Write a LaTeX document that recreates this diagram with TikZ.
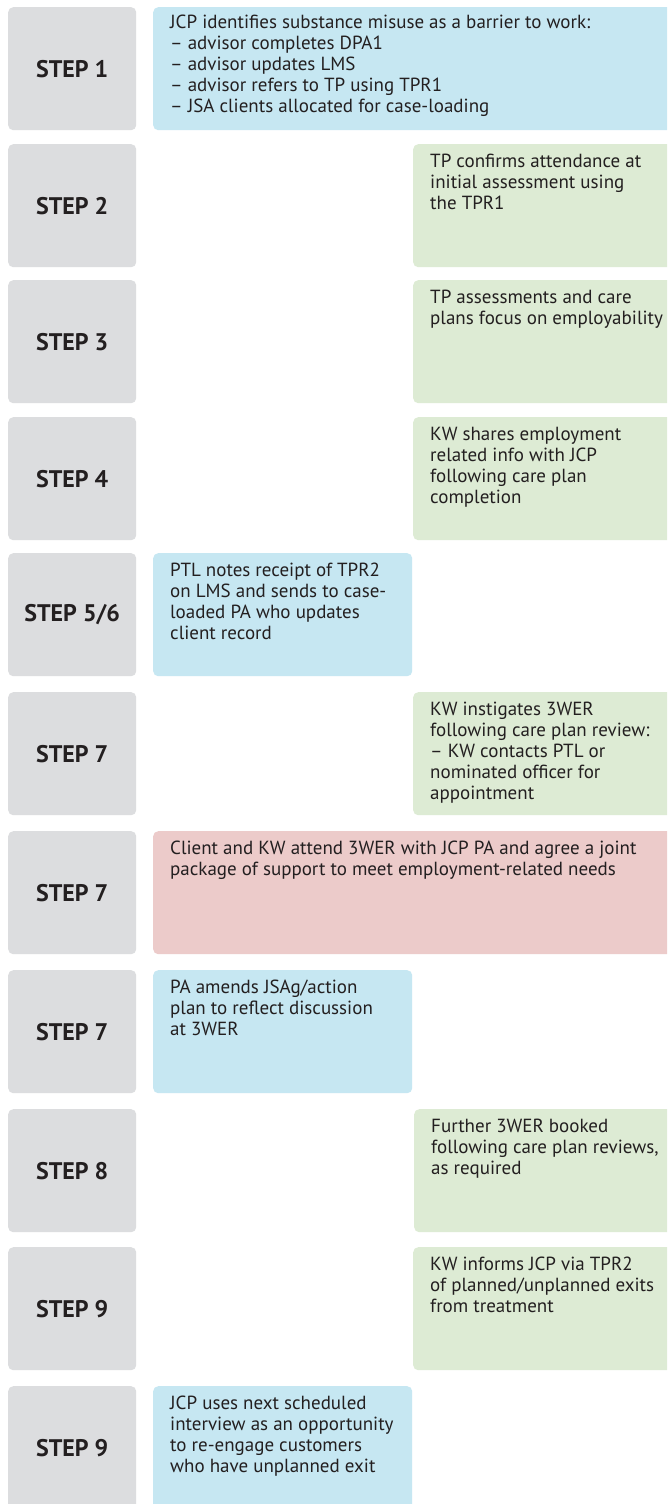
\documentclass[tikz,border=0pt]{standalone}
\usepackage{fontspec}
\setmainfont{PT Sans}
\definecolor{stepgray}{HTML}{DCDDDF}
\definecolor{cblue}{HTML}{C6E7F2}
\definecolor{cgreen}{HTML}{DDEBD4}
\definecolor{cpink}{HTML}{ECCBCA}
\definecolor{ink}{HTML}{231F20}
\begin{document}
\begin{tikzpicture}[x=1pt,y=-1pt,
  stepbox/.style={fill=stepgray, rounded corners=5pt, minimum width=128pt, minimum height=123pt,
    anchor=north west, inner sep=0pt, text=ink, font=\bfseries\fontsize{24}{26}\selectfont},
  card/.style={rounded corners=5pt, minimum height=123pt, anchor=north west, inner sep=0pt},
  bluewide/.style={card, fill=cblue, minimum width=530pt},
  bluenarrow/.style={card, fill=cblue, minimum width=259pt},
  greencard/.style={card, fill=cgreen, minimum width=270pt},
  pinkcard/.style={card, fill=cpink, minimum width=530pt},
  body/.style={anchor=north west, inner sep=0pt, align=left, text=ink,
    font=\fontsize{19}{21}\selectfont, execute at begin node={\rule{0pt}{15pt}}}
]
\useasboundingbox (0,0) rectangle (667,1504);
\clip (0,0) rectangle (667,1504);
\fill[white] (0,0) rectangle (667,1504);

% row 1
\node[stepbox] (s1) at (8,7) {STEP 1};
\node[bluewide] (b1) at (153,7) {};
\node[body] (t1) at ([shift={(17,8)}]b1.north west) {JCP identifies substance misuse as a barrier to work:\\– advisor completes DPA1\\– advisor updates LMS\\– advisor refers to TP using TPR1\\– JSA clients allocated for case-loading};

% row 2
\node[stepbox] (s2) at (8,144) {STEP 2};
\node[greencard] (b2) at (413,144) {};
\node[body] (t2) at ([shift={(17,10)}]b2.north west) {TP confirms attendance at\\initial assessment using\\the TPR1};

% row 3
\node[stepbox] (s3) at (8,280) {STEP 3};
\node[greencard] (b3) at (413,280) {};
\node[body] (t3) at ([shift={(17,10)}]b3.north west) {TP assessments and care\\plans focus on employability};

% row 4
\node[stepbox] (s4) at (8,417) {STEP 4};
\node[greencard] (b4) at (413,417) {};
\node[body] (t4) at ([shift={(17,10)}]b4.north west) {KW shares employment\\related info with JCP\\following care plan\\completion};

% row 5
\node[stepbox] (s5) at (8,553) {STEP 5/6};
\node[bluenarrow] (b5) at (153,553) {};
\node[body] (t5) at ([shift={(17,10)}]b5.north west) {PTL notes receipt of TPR2\\on LMS and sends to case-\\loaded PA who updates\\client record};

% row 6
\node[stepbox] (s6) at (8,692) {STEP 7};
\node[greencard] (b6) at (413,692) {};
\node[body] (t6) at ([shift={(17,10)}]b6.north west) {KW instigates 3WER\\following care plan review:\\– KW contacts PTL or\\nominated officer for\\appointment};

% row 7
\node[stepbox] (s7) at (8,831) {STEP 7};
\node[pinkcard] (b7) at (153,831) {};
\node[body] (t7) at ([shift={(17,10)}]b7.north west) {Client and KW attend 3WER with JCP PA and agree a joint\\package of support to meet employment-related needs};

% row 8
\node[stepbox] (s8) at (8,970) {STEP 7};
\node[bluenarrow] (b8) at (153,970) {};
\node[body] (t8) at ([shift={(17,10)}]b8.north west) {PA amends JSAg/action\\plan to reflect discussion\\at 3WER};

% row 9
\node[stepbox] (s9) at (8,1109) {STEP 8};
\node[greencard] (b9) at (414,1109) {};
\node[body] (t9) at ([shift={(17,10)}]b9.north west) {Further 3WER booked\\following care plan reviews,\\as required};

% row 10
\node[stepbox] (s10) at (8,1247) {STEP 9};
\node[greencard] (b10) at (413,1247) {};
\node[body] (t10) at ([shift={(17,10)}]b10.north west) {KW informs JCP via TPR2\\of planned/unplanned exits\\from treatment};

% row 11
\node[stepbox] (s11) at (8,1386) {STEP 9};
\node[bluenarrow] (b11) at (153,1386) {};
\node[body] (t11) at ([shift={(17,10)}]b11.north west) {JCP uses next scheduled\\interview as an opportunity\\to re-engage customers\\who have unplanned exit};
\end{tikzpicture}
\end{document}
